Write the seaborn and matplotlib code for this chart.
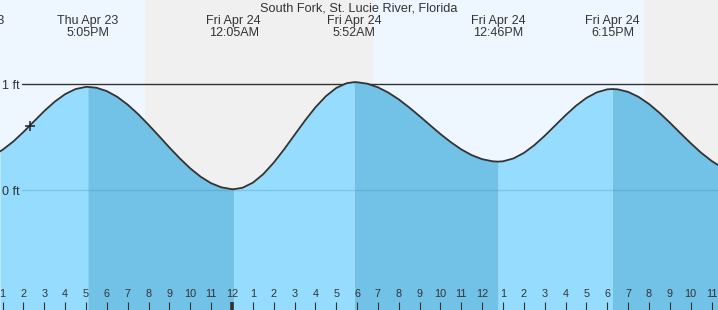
import matplotlib
matplotlib.use("Agg")
import matplotlib.pyplot as plt
import matplotlib.transforms as mtransforms
import pandas as pd
import seaborn as sns

# ---------------- data (hours counted from Thu Apr 23 00:00) ----------------
title = "South Fork, St. Lucie River, Florida"

curve_hours = [12.87, 13.0, 13.5, 14.0, 14.5, 15.0, 15.5, 16.0, 16.5, 17.0, 17.083,
               17.5, 18.0, 18.5, 19.0, 19.5, 20.0, 20.5, 21.0, 21.5, 22.0, 22.5,
               23.0, 23.5, 24.0, 24.083, 24.5, 25.0, 25.5, 26.0, 26.5, 27.0, 27.5,
               28.0, 28.5, 29.0, 29.5, 29.867, 30.0, 30.5, 31.0, 31.5, 32.0, 32.5,
               33.0, 33.5, 34.0, 34.5, 35.0, 35.5, 36.0, 36.5, 36.767, 37.0, 37.5,
               38.0, 38.5, 39.0, 39.5, 40.0, 40.5, 41.0, 41.5, 42.0, 42.25, 42.5,
               43.0, 43.5, 44.0, 44.5, 45.0, 45.5, 46.0, 46.5, 47.0, 47.31]
curve_ft = [0.366, 0.382, 0.458, 0.550, 0.649, 0.748, 0.836, 0.907, 0.955, 0.975, 0.975,
            0.967, 0.935, 0.881, 0.807, 0.718, 0.617, 0.511, 0.403, 0.300, 0.206, 0.127,
            0.066, 0.027, 0.010, 0.010, 0.023, 0.071, 0.152, 0.260, 0.386, 0.522, 0.657,
            0.782, 0.887, 0.965, 1.010, 1.020, 1.019, 1.005, 0.971, 0.921, 0.857, 0.781,
            0.699, 0.614, 0.530, 0.453, 0.385, 0.331, 0.293, 0.273, 0.270, 0.273, 0.300,
            0.352, 0.425, 0.514, 0.611, 0.708, 0.797, 0.871, 0.924, 0.952, 0.955, 0.952,
            0.928, 0.881, 0.814, 0.731, 0.638, 0.540, 0.444, 0.354, 0.277, 0.238]

ext_hours = [11.63, 17.083, 24.083, 29.867, 36.767, 42.25]
ext_kind = ["L", "H", "L", "H", "L", "H"]
ext_date = ["Thu Apr 23", "Thu Apr 23", "Fri Apr 24", "Fri Apr 24", "Fri Apr 24", "Fri Apr 24"]
ext_time = ["11:38AM", "5:05PM", "12:05AM", "5:52AM", "12:46PM", "6:15PM"]

sunset_hours = [19.83, 43.76]
sunrise_hours = [30.76, 54.75]

tick_hours = [13, 14, 15, 16, 17, 18, 19, 20, 21, 22, 23, 24, 25, 26, 27, 28, 29, 30,
              31, 32, 33, 34, 35, 36, 37, 38, 39, 40, 41, 42, 43, 44, 45, 46, 47]
tick_labels = ["1", "2", "3", "4", "5", "6", "7", "8", "9", "10", "11", "12",
               "1", "2", "3", "4", "5", "6", "7", "8", "9", "10", "11", "12",
               "1", "2", "3", "4", "5", "6", "7", "8", "9", "10", "11"]
midnight_hour = 24

y_levels = [0, 1]
y_labels = ["0 ft", "1 ft"]

now_hour = 14.31
now_ft = 0.61

x_range = (12.873, 47.31)
y_range = (-1.13, 1.795)

# ---------------- styling ----------------
DAY_BG = "#EEF7FF"
NIGHT_BG = "#F0F0F0"
RISE_FILL = "#96DCFE"
FALL_FILL = "#72C1E6"
INK = "#333333"

sns.set_theme(style="white")
plt.rcParams["font.family"] = ["Liberation Sans", "DejaVu Sans"]

df = pd.DataFrame({"hour": curve_hours, "ft": curve_ft})

fig = plt.figure(figsize=(7.18, 3.10), dpi=100)
ax = fig.add_axes([0, 0, 1, 1])
ax.set_facecolor(DAY_BG)
for sp in ax.spines.values():
    sp.set_visible(False)

for s, r in zip(sunset_hours, sunrise_hours):
    ax.axvspan(s, r, color=NIGHT_BG, lw=0, zorder=0)

ax.set_xlim(*x_range)
ax.set_ylim(*y_range)

# 1 ft reference line (under water)
ax.axhline(1, xmin=22 / 718, color=INK, lw=1.0, zorder=0.6)

# water fill, coloured by rising / falling segment
bounds = [x_range[0] - 1] + ext_hours[1:] + [x_range[1] + 1]
kinds_next = ext_kind[1:] + ["L"]
for i in range(len(bounds) - 1):
    a, b = bounds[i], bounds[i + 1]
    seg = df[(df["hour"] >= a) & (df["hour"] <= b)]
    color = RISE_FILL if kinds_next[i] == "H" else FALL_FILL
    ax.fill_between(seg["hour"], seg["ft"], y_range[0], color=color, lw=0, zorder=1)

# 0 ft reference line (over water)
ax.axhline(0, xmin=22 / 718, color="#3d8fc0", alpha=0.3, lw=1.0, zorder=2)

sns.lineplot(data=df, x="hour", y="ft", color=INK, lw=1.3, ax=ax, zorder=3)
ax.plot([now_hour], [now_ft], marker="+", ms=6.5, mew=1.1, color="#222222",
        ls="none", zorder=4)

ax.set_xlabel("")
ax.set_ylabel("")

# x ticks: hours along the bottom, labels inside
ax.set_xticks(tick_hours, tick_labels)
ax.tick_params(axis="x", direction="in", length=5.8, width=0.8, color=INK,
               labelsize=7.8, labelcolor=INK, pad=-15, bottom=True, top=False)
for th, tk in zip(tick_hours, ax.xaxis.get_major_ticks()):
    if th == midnight_hour:
        tk.tick1line.set_markeredgewidth(2.6)
        tk.tick1line.set_color("#222222")

# y ticks: levels labels inside on the left
ax.set_yticks(y_levels, y_labels)
ax.tick_params(axis="y", direction="in", length=0, labelsize=9, labelcolor=INK,
               pad=-14.4, left=True, right=False)
ax.grid(False)
ax.xaxis.set_zorder(5)
ax.yaxis.set_zorder(5)

# high / low labels along the top
trans = mtransforms.blended_transform_factory(ax.transData, ax.transAxes)
for h, d, t in zip(ext_hours, ext_date, ext_time):
    ax.text(h, 1 - 24.3 / 310, d, transform=trans, ha="center", va="baseline",
            fontsize=9, color=INK, clip_on=False, zorder=5)
    ax.text(h, 1 - 36.0 / 310, t, transform=trans, ha="center", va="baseline",
            fontsize=9, color=INK, clip_on=False, zorder=5)

fig.text(0.5, 1 - 11.5 / 310, title, ha="center", va="baseline", fontsize=9.2,
         color=INK)

fig.savefig("out.png", dpi=100)
